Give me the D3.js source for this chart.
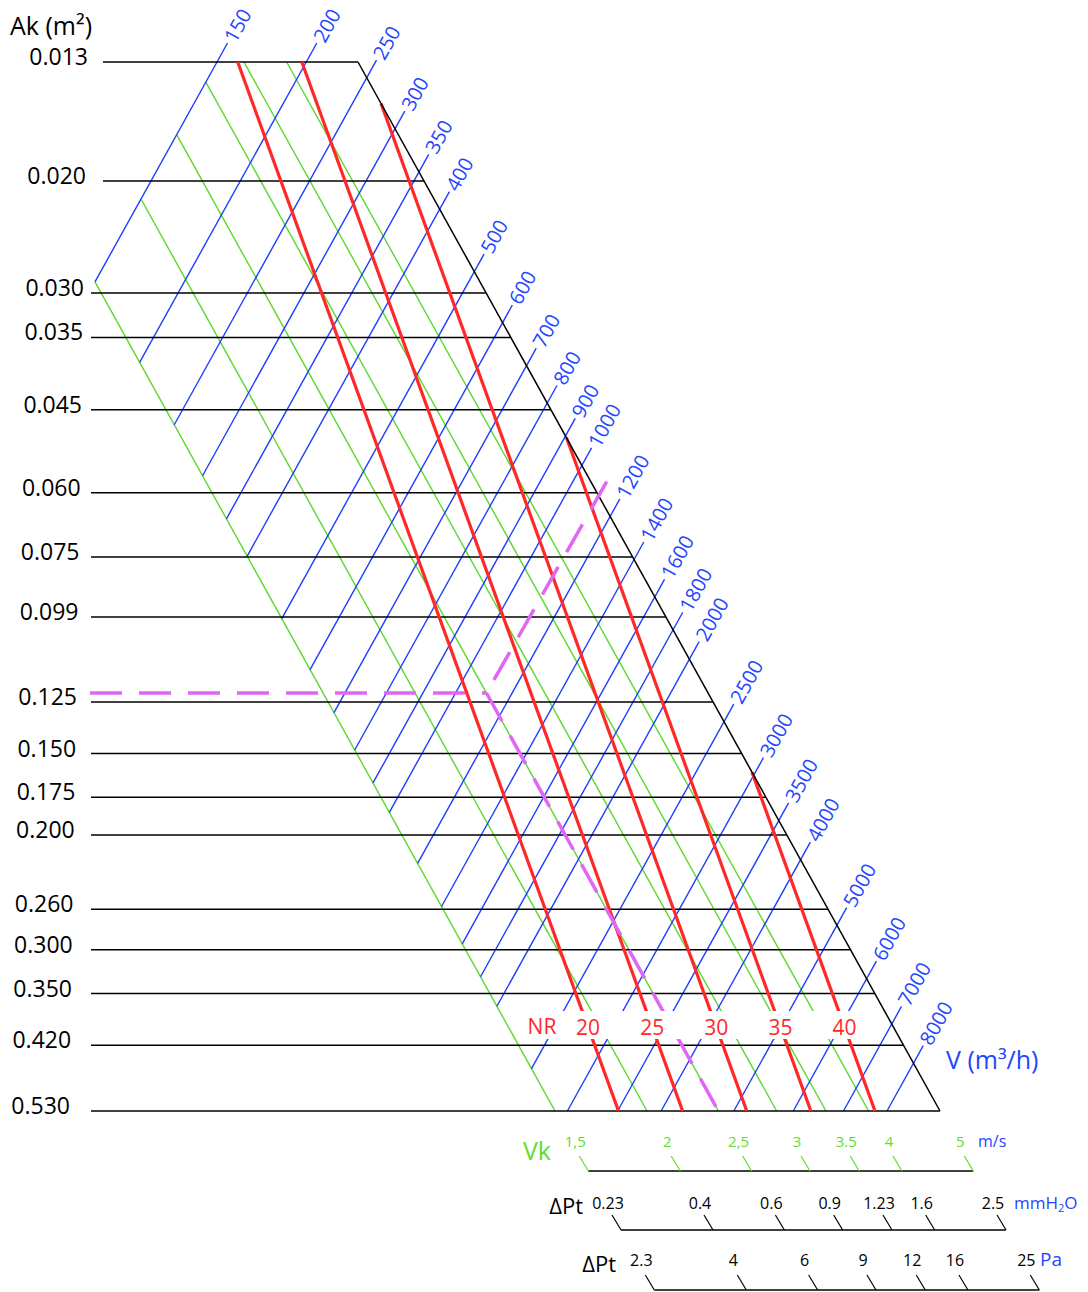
<!DOCTYPE html>
<html><head><meta charset="utf-8">
<script src="https://cdn.jsdelivr.net/npm/d3@7"></script>
<style>
body{margin:0;background:#fff}
svg{display:block}
text{font-family:"Open Sans",sans-serif}
</style>
</head><body>
<svg id="c" width="1088" height="1292"></svg>
<script>
// ---------- data ----------
const akTicks = [0.013,0.020,0.030,0.035,0.045,0.060,0.075,0.099,0.125,0.150,0.175,0.200,0.260,0.300,0.350,0.420,0.530];
const akLabels = ["0.013","0.020","0.030","0.035","0.045","0.060","0.075","0.099","0.125","0.150","0.175","0.200","0.260","0.300","0.350","0.420","0.530"];
const flowValues = [150,200,250,300,350,400,500,600,700,800,900,1000,1200,1400,1600,1800,2000,2500,3000,3500,4000,5000,6000,7000,8000];
const velocityValues = [1.5,2,2.5,3,3.5,4];
const velocityMax = 5;
const nrValues = [20,25,30,35,40];
const vkTicks = [1.5,2,2.5,3,3.5,4,5];
const vkTickLabels = ["1,5","2","2,5","3","3.5","4","5"];
const dpMmLabels = ["0.23","0.4","0.6","0.9","1.23","1.6","2.5"];
const dpPaLabels = ["2.3","4","6","9","12","16","25"];
const exampleAk = 0.125, exampleVk = 2.5;

// ---------- layout ----------
const W = 1088, H = 1292;
const COL = {blue:"#1f3dff", blueText:"#2346ff", green:"#5bd82b", greenText:"#62dc2e",
             red:"#ff2828", pink:"#e066f5", black:"#000"};
const svg = d3.select("#c");
svg.append("rect").attr("width",W).attr("height",H).attr("fill","#fff");

const yAk = d3.scaleLog().domain([0.013,0.030,0.075,0.099,0.125,0.530]).range([62,293,557,617,702,1111]);
const yTop = yAk(akTicks[0]), yBot = yAk(akTicks[akTicks.length-1]);
const xVk = d3.scaleLog().domain([1.5, velocityMax]).range([555, 940]);      // x where a Vk line meets the bottom line
const xV  = d3.scaleLog().domain([150, 2500, 8000]).range([-365, 508, 887]); // x where a flow line meets the bottom line
const xNR = d3.scaleLinear().domain([20, 40]).range([618.5, 875]);
const xTopRight = 358;
const s = (xVk(velocityMax) - xTopRight) / (yBot - yTop); // slope dx/dy of Vk lines
const sr = 0.363;                                          // slope of NR lines
const labelGap = 19.5;

const gX = (v,y) => xVk(v) + s*(y - yBot);
const bX = (V,y) => xV(V) - s*(y - yBot);
const rX = (n,y) => xNR(n) + sr*(y - yBot);
const boundX = y => gX(velocityMax, y);

const gLines = svg.append("g"), bLines = svg.append("g"), hLines = svg.append("g"), rLines = svg.append("g");

// horizontal Ak lines
akTicks.forEach((a,i) => {
  const y = yAk(a);
  hLines.append("line").attr("x1", i < 2 ? 103 : 91).attr("x2", boundX(y))
    .attr("y1", y).attr("y2", y).attr("stroke", COL.black).attr("stroke-width", 1.5);
  svg.append("text").attr("x", 88 - 18*(y - yTop)/(yBot - yTop)).attr("y", y + 3)
    .attr("text-anchor","end").attr("font-size", 23).attr("fill", COL.black).text(akLabels[i]);
});

// green velocity lines
velocityValues.forEach(v => {
  const yi = yBot + (xV(flowValues[0]) - xVk(v)) / (2*s);
  const y1 = Math.max(yTop, yi);
  gLines.append("line").attr("x1", gX(v,y1)).attr("y1", y1).attr("x2", gX(v,yBot)).attr("y2", yBot)
    .attr("stroke", COL.green).attr("stroke-width", 1.4);
});

// blue flow lines + labels
const ang = -Math.atan2(1, s) * 180 / Math.PI;
flowValues.forEach(V => {
  const yl = Math.min(yBot, yBot + (xV(V) - xVk(velocityValues[0])) / (2*s));
  const yh = Math.max(yTop - 19, yBot + (xV(V) - xVk(velocityMax) - labelGap) / (2*s));
  bLines.append("line").attr("x1", bX(V,yl)).attr("y1", yl).attr("x2", bX(V,yh)).attr("y2", yh)
    .attr("stroke", COL.blue).attr("stroke-width", 1.4);
  svg.append("text").attr("transform", `translate(${bX(V,yh)},${yh}) rotate(${ang})`)
    .attr("x", 3).attr("dy", "0.38em").attr("font-size", 20).attr("fill", COL.blueText).text(V);
});

// red NR lines
nrValues.forEach(n => {
  const yi = yBot + (xNR(n) - xVk(velocityMax)) / (s - sr);
  const y1 = Math.max(yTop, yi);
  rLines.append("line").attr("x1", rX(n,y1)).attr("y1", y1).attr("x2", rX(n,yBot)).attr("y2", yBot)
    .attr("stroke", COL.red).attr("stroke-width", 3.2);
});

// outline: right boundary
svg.append("line").attr("x1", xTopRight).attr("y1", yTop).attr("x2", xVk(velocityMax)).attr("y2", yBot)
  .attr("stroke", COL.black).attr("stroke-width", 1.5);

// pink example path
const yp = yAk(exampleAk) - 9;
const xc = gX(exampleVk, yp);
const yEnd = (xc + s*yp - (xTopRight + labelGap) + s*yTop) / (2*s) + 6;
const pink = svg.append("g").attr("fill","none").attr("stroke", COL.pink).attr("stroke-width", 3.5)
  .attr("stroke-dasharray", "32,17");
pink.append("line").attr("x1", 90).attr("y1", yp).attr("x2", xc).attr("y2", yp);
pink.append("line").attr("x1", xc + s*(yp - yEnd) + 3).attr("y1", yEnd).attr("x2", xc).attr("y2", yp);
pink.append("line").attr("x1", xc).attr("y1", yp).attr("x2", gX(exampleVk, yBot)).attr("y2", yBot);

// label band for NR values
const yNR = 1027;
svg.append("rect").attr("x", 517).attr("y", 1011).attr("width", 351).attr("height", 28).attr("fill", "#fff");
nrValues.forEach(n => {
  svg.append("text").attr("x", rX(n, yNR)).attr("y", yNR).attr("dy","0.36em").attr("text-anchor","middle")
    .attr("font-size", 21).attr("fill", COL.red).text(n);
});
svg.append("text").attr("x", rX(nrValues[0], yNR) - 46).attr("y", yNR - 1).attr("dy","0.36em")
  .attr("text-anchor","middle").attr("font-size", 21).attr("fill", COL.red).text("NR");

// titles
svg.append("text").attr("x", 10).attr("y", 35).attr("font-size", 25).attr("fill", COL.black).text("Ak (m²)");
svg.append("text").attr("x", 946).attr("y", 1069).attr("font-size", 25).attr("fill", COL.blueText).text("V (m³/h)");

// bottom scales
function scaleRow(ya, labels, labelColor, labelSize, labelDy, title, titleColor, titleSize, titleEnd, titleDy, unit, unitSize, unitX) {
  const xa = v => gX(v, ya);
  svg.append("line").attr("x1", xa(vkTicks[0])).attr("x2", xa(vkTicks[vkTicks.length-1]))
    .attr("y1", ya).attr("y2", ya).attr("stroke", COL.black).attr("stroke-width", 1.3);
  vkTicks.forEach((v,i) => {
    svg.append("line").attr("x1", xa(v) - 9).attr("y1", ya - 15).attr("x2", xa(v)).attr("y2", ya)
      .attr("stroke", labelColor === COL.greenText ? COL.greenText : COL.black).attr("stroke-width", 1.2);
    svg.append("text").attr("x", xa(v) - 13).attr("y", ya - labelDy).attr("text-anchor","middle")
      .attr("font-size", labelSize).attr("fill", labelColor).text(labels[i]);
  });
  svg.append("text").attr("x", titleEnd).attr("y", ya - titleDy).attr("text-anchor","end")
    .attr("font-size", titleSize).attr("fill", titleColor).text(title);
  const u = svg.append("text").attr("x", unitX).attr("y", ya - labelDy).attr("font-size", unitSize).attr("fill", COL.blueText);
  if (unit === "mmH2O") {
    u.append("tspan").text("mmH");
    u.append("tspan").attr("font-size", unitSize*0.65).attr("dy", 3).text("2");
    u.append("tspan").attr("dy", -3).text("O");
  } else u.text(unit);
}
scaleRow(1171, vkTickLabels, COL.greenText, 15, 24, "Vk", COL.greenText, 25, 551, 11, "m/s", 16, 978);
scaleRow(1230, dpMmLabels, COL.black, 16, 21, "ΔPt", COL.black, 22, 583, 16, "mmH2O", 17, 1014);
scaleRow(1290, dpPaLabels, COL.black, 16, 24, "ΔPt", COL.black, 22, 616, 18, "Pa", 19, 1040);
</script>
</body></html>
